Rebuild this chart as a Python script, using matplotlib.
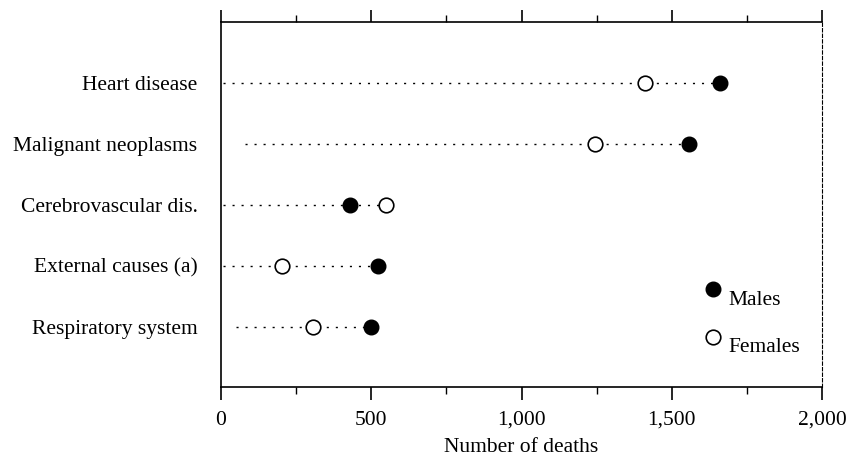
import numpy as np
import matplotlib.pyplot as plt

# dữ liệu
causes = ['Heart disease', 'Malignant neoplasms', 'Cerebrovascular dis.',
          'External causes (a)', 'Respiratory system']
males = [1660, 1557, 429, 522, 499]
females = [1411, 1245, 549, 203, 306]
line_start = [5, 80, 5, 5, 50]

plt.rcParams['font.family'] = ['Liberation Serif', 'DejaVu Serif']
fs = 15.5

fig = plt.figure(figsize=(8.48, 4.57), dpi=100)
ax = fig.add_axes([221/848, 70/457, 601/848, 365/457])

y = np.arange(len(causes))
for i in range(len(causes)):
    end = max(males[i], females[i])
    ax.plot([line_start[i], end], [y[i], y[i]], color='black', lw=1,
            linestyle=(0, (1.5, 5)), zorder=1)
ax.plot(females, y, 'o', ms=10.5, mfc='white', mec='black', mew=1.2, ls='none', zorder=3)
ax.plot(males, y, 'o', ms=10.5, mfc='black', mec='black', ls='none', zorder=3)

ax.set_xlim(0, 2000)
ax.set_ylim(len(causes) - 0.01, -1)
ax.set_yticks(y)
ax.set_yticklabels(causes, fontsize=fs)
ax.tick_params(axis='y', length=0, pad=17)

ax.set_xticks([0, 500, 1000, 1500, 2000])
ax.set_xticklabels(['0', '500', '1,000', '1,500', '2,000'], fontsize=fs)
ax.set_xticks([250, 750, 1250, 1750], minor=True)
ax.tick_params(axis='x', which='major', direction='out', length=9, width=1.2,
               top=True, pad=8)
ax.tick_params(axis='x', which='minor', direction='out', length=5, width=1, top=True)
ax.set_xlabel('Number of deaths', fontsize=fs, labelpad=6)

for s in ['left', 'top', 'bottom']:
    ax.spines[s].set_linewidth(1.2)
ax.spines['right'].set_linestyle((0, (3, 2)))
ax.spines['right'].set_linewidth(0.8)

# chú thích tự vẽ
ax.plot([0.819], [0.268], 'o', ms=10.5, mfc='black', mec='black', transform=ax.transAxes, clip_on=False)
ax.plot([0.819], [0.137], 'o', ms=10.5, mfc='white', mec='black', mew=1.2, transform=ax.transAxes, clip_on=False)
ax.text(0.845, 0.238, 'Males', fontsize=fs, transform=ax.transAxes, va='center')
ax.text(0.845, 0.107, 'Females', fontsize=fs, transform=ax.transAxes, va='center')

plt.savefig('out.png', dpi=100)
